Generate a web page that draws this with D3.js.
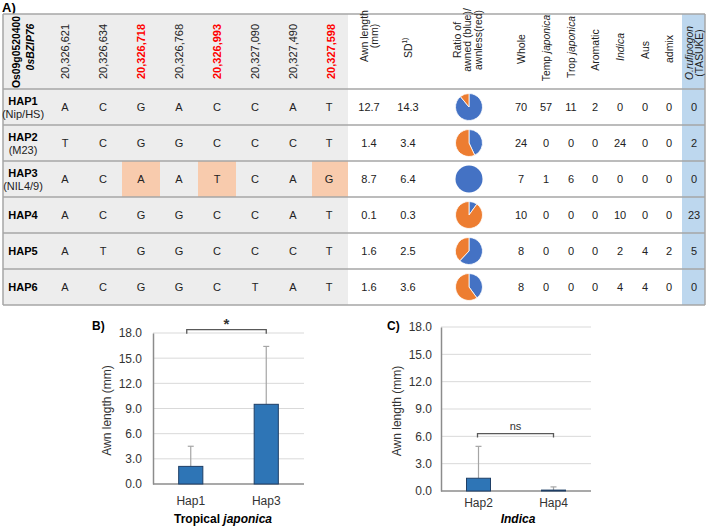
<!DOCTYPE html>
<html><head><meta charset="utf-8">
<script src="https://cdn.jsdelivr.net/npm/d3@7"></script>
<style>body{margin:0;background:#fff;}svg{display:block;font-family:"Liberation Sans",Arial,sans-serif;}</style>
</head><body>
<svg id="c" width="708" height="527"></svg>
<script>
// ---------- DATA ----------
const snpPositions = ["20,326,621","20,326,634","20,326,718","20,326,768","20,326,993","20,327,090","20,327,490","20,327,598"];
const snpCausal = [false,false,true,false,true,false,false,true];
const haps = ["HAP1","HAP2","HAP3","HAP4","HAP5","HAP6"];
const hapSub = ["(Nip/HS)","(M23)","(NIL4/9)","","",""];
const alleles = [
  ["A","C","G","A","C","C","A","T"],
  ["T","C","G","G","C","C","C","T"],
  ["A","C","A","A","T","C","A","G"],
  ["A","C","G","G","C","C","A","T"],
  ["A","T","G","G","C","C","C","T"],
  ["A","C","G","G","C","T","A","T"]
];
const highlightHap = "HAP3";
const awnLength = [12.7, 1.4, 8.7, 0.1, 1.6, 1.6];
const awnSD = [14.3, 3.4, 6.4, 0.3, 2.5, 3.6];
const awnedShare = [0.89, 0.43, 1.0, 0.1, 0.62, 0.4];
const countCols = ["Whole","Temp japonica","Trop japonica","Aromatic","Indica","Aus","admix","O.rufipogon"];
const whole = [70, 24, 7, 10, 8, 8];
const tempJap = [57, 0, 1, 0, 0, 0];
const tropJap = [11, 0, 6, 0, 0, 0];
const aromatic = [2, 0, 0, 0, 0, 0];
const indica = [0, 24, 0, 10, 2, 4];
const aus = [0, 0, 0, 0, 4, 4];
const admix = [0, 0, 0, 0, 2, 0];
const rufipogon = [0, 2, 0, 23, 5, 0];

const yTicks = [0, 3, 6, 9, 12, 15, 18];
const tropCats = ["Hap1","Hap3"];
const tropMean = [2.1, 9.5];
const tropSD = [2.4, 6.9];
const indCats = ["Hap2","Hap4"];
const indMean = [1.4, 0.1];
const indSD = [3.5, 0.35];

// ---------- DRAW ----------
const svg = d3.select("#c");
const FONT = '"Liberation Sans",Arial,sans-serif';
const gridCol = "#a6a6a6";

// Panel A table
const tLeft = 3, tRight = 705, tTop = 14, headBottom = 89, tBottom = 305;
const rowY = d3.scaleBand().domain(haps).range([headBottom, tBottom]);
const snpX = d3.scaleBand().domain(d3.range(8)).range([46, 350]);
const colNames = ["awn","sd","pie"].concat(countCols);
const colX = d3.scaleOrdinal().domain(colNames)
  .range([369, 408, 469, 521, 546, 571, 595, 620, 645, 669, 694]);

svg.append("text").attr("x", 2).attr("y", 12).attr("font-weight", "bold")
  .attr("font-size", 13).text("A)");

// backgrounds
svg.append("rect").attr("x", tLeft).attr("y", tTop).attr("width", 348 - tLeft)
  .attr("height", tBottom - tTop).attr("fill", "#ededed");
svg.append("rect").attr("x", 682).attr("y", tTop).attr("width", tRight - 682)
  .attr("height", tBottom - tTop).attr("fill", "#bdd7ee");
// highlighted cells
snpCausal.forEach((c, i) => {
  if (!c) return;
  const w = i === 7 ? 348 - snpX(i) : snpX.bandwidth();
  svg.append("rect").attr("x", snpX(i)).attr("y", rowY(highlightHap))
    .attr("width", w).attr("height", rowY.bandwidth()).attr("fill", "#f8cbad");
});

// horizontal lines
const hLines = [tTop, headBottom].concat(haps.map(h => rowY(h) + rowY.bandwidth()));
svg.selectAll("line.h").data(hLines).join("line")
  .attr("x1", tLeft).attr("x2", tRight).attr("y1", d => d).attr("y2", d => d)
  .attr("stroke", gridCol).attr("stroke-width", 1.5);
svg.append("line").attr("x1", tLeft).attr("x2", tLeft).attr("y1", tTop).attr("y2", tBottom)
  .attr("stroke", gridCol).attr("stroke-width", 1.5);
svg.append("line").attr("x1", tRight).attr("x2", tRight).attr("y1", tTop).attr("y2", tBottom)
  .attr("stroke", gridCol).attr("stroke-width", 1.5);

function rotText(x, y, anchor) {
  return svg.append("text").attr("transform", `translate(${x},${y}) rotate(-90)`)
    .attr("text-anchor", anchor).attr("dominant-baseline", "central");
}
rotText(16, 52, "middle").attr("font-weight", "bold").attr("font-size", 10.4).text("Os09g0520400");
rotText(30, 47, "middle").attr("font-weight", "bold").attr("font-style", "italic")
  .attr("font-size", 10.4).text("0sBZIP76");
snpPositions.forEach((p, i) => {
  rotText(snpX(i) + snpX.bandwidth() / 2, 79, "start")
    .attr("font-size", 11).attr("fill", snpCausal[i] ? "#ff0000" : "#222")
    .attr("font-weight", snpCausal[i] ? "bold" : "normal").text(p);
});
function multiHdr(cx, cy, lines, fs) {
  const n = lines.length, lh = fs * 1.0;
  lines.forEach((ln, k) => {
    const t = rotText(cx + (k - (n - 1) / 2) * lh, cy, "middle").attr("font-size", fs).attr("fill", "#222");
    ln.forEach(seg => {
      const ts = t.append("tspan").text(seg.t);
      if (seg.i) ts.attr("font-style", "italic");
      if (seg.sup) ts.attr("baseline-shift", "super").attr("font-size", fs * 0.6);
    });
  });
}
multiHdr(colX("awn"), 36, [[{t:"Awn length"}],[{t:"(mm)"}]], 10.5);
multiHdr(colX("sd"), 48, [[{t:"SD"},{t:"1)", sup:true}]], 10.5);
multiHdr(colX("pie") - 2, 40, [[{t:"Ratio of"}],[{t:"awned (blue)/"}],[{t:"awnless(red)"}]], 10.5);
multiHdr(colX("Whole"), 49, [[{t:"Whole"}]], 10.5);
multiHdr(colX("Temp japonica"), 48, [[{t:"Temp "},{t:"japonica", i:true}]], 10.3);
multiHdr(colX("Trop japonica"), 47, [[{t:"Trop "},{t:"japonica", i:true}]], 10.3);
multiHdr(colX("Aromatic"), 50, [[{t:"Aromatic"}]], 10.5);
multiHdr(colX("Indica"), 47, [[{t:"Indica", i:true}]], 10.5);
multiHdr(colX("Aus"), 50, [[{t:"Aus"}]], 10.5);
multiHdr(colX("admix"), 49, [[{t:"admix"}]], 10.5);
multiHdr(colX("O.rufipogon"), 53, [[{t:"O.rufipogon", i:true}],[{t:"(TASUKE)"}]], 10.3);

// rows
const pie = d3.pie().sort(null).value(d => d);
const arc = d3.arc().innerRadius(0).outerRadius(13.5);
const countArrays = [whole, tempJap, tropJap, aromatic, indica, aus, admix, rufipogon];
haps.forEach((h, r) => {
  const cy = rowY(h) + rowY.bandwidth() / 2;
  if (hapSub[r]) {
    svg.append("text").attr("x", 23).attr("y", cy - 6).attr("text-anchor", "middle")
      .attr("dominant-baseline", "central").attr("font-weight", "bold").attr("font-size", 11).text(h);
    svg.append("text").attr("x", 23).attr("y", cy + 7).attr("text-anchor", "middle")
      .attr("dominant-baseline", "central").attr("font-size", 11).attr("fill", "#222").text(hapSub[r]);
  } else {
    svg.append("text").attr("x", 23).attr("y", cy).attr("text-anchor", "middle")
      .attr("dominant-baseline", "central").attr("font-weight", "bold").attr("font-size", 11).text(h);
  }
  alleles[r].forEach((a, i) => {
    svg.append("text").attr("x", snpX(i) + snpX.bandwidth() / 2 + (i === 7 ? -2 : 0)).attr("y", cy)
      .attr("text-anchor", "middle").attr("dominant-baseline", "central")
      .attr("font-size", 11).attr("fill", "#222").text(a);
  });
  svg.append("text").attr("x", colX("awn")).attr("y", cy).attr("text-anchor", "middle")
    .attr("dominant-baseline", "central").attr("font-size", 11).attr("fill", "#222").text(awnLength[r].toFixed(1));
  svg.append("text").attr("x", colX("sd")).attr("y", cy).attr("text-anchor", "middle")
    .attr("dominant-baseline", "central").attr("font-size", 11).attr("fill", "#222").text(awnSD[r].toFixed(1));
  const g = svg.append("g").attr("transform", `translate(${colX("pie")},${cy})`);
  const full = awnedShare[r] >= 1 || awnedShare[r] <= 0;
  g.selectAll("path").data(pie([awnedShare[r], 1 - awnedShare[r]])).join("path")
    .attr("d", arc).attr("fill", (d, k) => k === 0 ? "#4472c4" : "#ed7d31")
    .attr("stroke", full ? "none" : "#fff").attr("stroke-width", 0.8);
  countCols.forEach((c, k) => {
    svg.append("text").attr("x", colX(c)).attr("y", cy).attr("text-anchor", "middle")
      .attr("dominant-baseline", "central").attr("font-size", 11).attr("fill", "#222").text(countArrays[k][r]);
  });
});

// ---------- Bar charts ----------
function barChart(o) {
  const x = d3.scaleBand().domain(o.cats).range([o.x0, o.x1]).paddingInner(0.68).paddingOuter(0.34);
  const y = d3.scaleLinear().domain([0, 18]).range([o.y0, o.y1]);
  const g = svg.append("g");
  g.selectAll("line.grid").data(yTicks.slice(1)).join("line")
    .attr("x1", o.x0).attr("x2", o.x1).attr("y1", d => y(d)).attr("y2", d => y(d))
    .attr("stroke", "#d9d9d9").attr("stroke-width", 1);
  const ax = g.append("g").attr("transform", `translate(${o.x0},0)`)
    .call(d3.axisLeft(y).tickValues(yTicks).tickFormat(d3.format(".1f")).tickSize(0).tickPadding(o.tickPad));
  ax.select(".domain").attr("stroke", "#8c8c8c").attr("stroke-width", 1.5);
  ax.selectAll("text").attr("font-size", 12).attr("fill", "#333").attr("font-family", FONT);
  g.append("line").attr("x1", o.x0).attr("x2", o.x1).attr("y1", y(0)).attr("y2", y(0))
    .attr("stroke", "#8c8c8c").attr("stroke-width", 1.5);
  o.cats.forEach((c, i) => {
    const cx = x(c) + x.bandwidth() / 2;
    g.append("line").attr("x1", cx).attr("x2", cx).attr("y1", y(o.mean[i])).attr("y2", y(o.mean[i] + o.sd[i]))
      .attr("stroke", "#a5a5a5").attr("stroke-width", 1.2);
    g.append("line").attr("x1", cx - 3).attr("x2", cx + 3).attr("y1", y(o.mean[i] + o.sd[i])).attr("y2", y(o.mean[i] + o.sd[i]))
      .attr("stroke", "#a5a5a5").attr("stroke-width", 1.2);
  });
  g.selectAll("rect.bar").data(o.cats).join("rect")
    .attr("x", d => x(d)).attr("width", x.bandwidth())
    .attr("y", (d, i) => y(o.mean[i])).attr("height", (d, i) => y(0) - y(o.mean[i]))
    .attr("fill", "#2e75b6").attr("stroke", "#1f3f66").attr("stroke-width", 1);
  o.cats.forEach(c => {
    g.append("text").attr("x", x(c) + x.bandwidth() / 2).attr("y", o.catY).attr("text-anchor", "middle")
      .attr("font-size", 12).attr("fill", "#333").text(c);
  });
  g.append("text").attr("transform", `translate(${o.titleX},${(o.y0 + o.y1) / 2 + 2}) rotate(-90)`)
    .attr("text-anchor", "middle").attr("dominant-baseline", "central").attr("font-size", 12).attr("fill", "#333")
    .text("Awn length (mm)");
  const gl = g.append("text").attr("x", o.groupX).attr("y", 523).attr("text-anchor", "middle")
    .attr("font-weight", "bold").attr("font-size", 12);
  o.group.forEach(s => { const t = gl.append("tspan").text(s.t); if (s.i) t.attr("font-style", "italic"); });
  g.append("text").attr("x", o.panelX).attr("y", 330).attr("font-weight", "bold").attr("font-size", 12).text(o.panel);
  const bx1 = x(o.cats[0]) + x.bandwidth() / 2 - o.brOff, bx2 = x(o.cats[1]) + x.bandwidth() / 2;
  const by = y(o.brVal);
  g.append("path").attr("d", `M${bx1},${by + 4}V${by}H${bx2}V${by + 4}`)
    .attr("fill", "none").attr("stroke", "#595959").attr("stroke-width", 1.3);
  g.append("text").attr("x", (bx1 + bx2) / 2).attr("y", by - o.sigDy).attr("text-anchor", "middle")
    .attr("font-size", o.sigFs).attr("font-weight", o.sigW).attr("fill", "#333").text(o.sig);
}
barChart({cats: tropCats, mean: tropMean, sd: tropSD, x0: 153, x1: 304, y0: 484, y1: 333,
  tickPad: 11, catY: 505, titleX: 107, groupX: 223, group: [{t:"Tropical "},{t:"japonica", i:true}],
  panel: "B)", panelX: 92, brVal: 18.4, brOff: 4, sig: "*", sigDy: 1, sigFs: 15, sigW: "bold"});
barChart({cats: indCats, mean: indMean, sd: indSD, x0: 441, x1: 591, y0: 491, y1: 327,
  tickPad: 9, catY: 507, titleX: 397, groupX: 518, group: [{t:"Indica", i:true}],
  panel: "C)", panelX: 387, brVal: 6.3, brOff: 1, sig: "ns", sigDy: 4, sigFs: 11, sigW: "normal"});
</script>
</body></html>
